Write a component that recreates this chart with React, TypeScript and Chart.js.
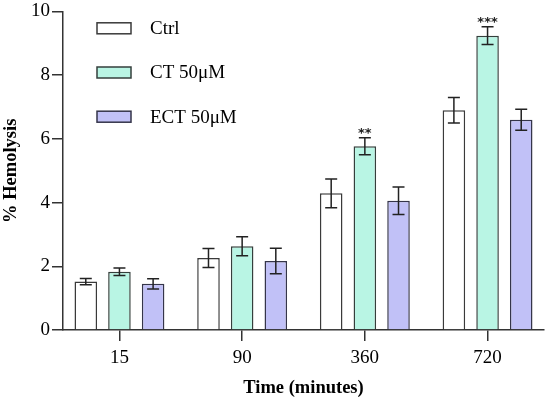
import React, { useEffect, useRef } from "react";
import { Chart, registerables } from "chart.js";

Chart.register(...registerables);

const CATEGORIES = ["15", "90", "360", "720"];
const SERIES_LABELS = ["Ctrl", "CT 50\u03BCM", "ECT 50\u03BCM"];
const CTRL = [1.52, 2.26, 4.29, 6.9];
const CTRL_ERR = [0.1, 0.3, 0.45, 0.4];
const CT = [1.83, 2.63, 5.77, 9.24];
const CT_ERR = [0.12, 0.3, 0.27, 0.28];
const ECT = [1.45, 2.17, 4.06, 6.6];
const ECT_ERR = [0.16, 0.4, 0.43, 0.33];
const CT_SIG = ["", "", "**", "***"];
const Y_MIN = 0;
const Y_MAX = 10;
const Y_STEP = 2;

const FAMILY = "'Liberation Serif', 'Times New Roman', serif";
const EDGE = "#333333";
const TEXT = "#000000";

const errorBarPlugin = {
  id: "errorBars",
  afterDatasetsDraw(chart: any) {
    const ctx = chart.ctx;
    const yScale = chart.scales.y;
    chart.data.datasets.forEach((ds: any, di: number) => {
      const meta = chart.getDatasetMeta(di);
      meta.data.forEach((el: any, i: number) => {
        const v = ds.data[i].y;
        const e = ds.errors[i];
        const yTop = yScale.getPixelForValue(v + e);
        const yBot = yScale.getPixelForValue(v - e);
        const x = el.x;
        ctx.save();
        ctx.strokeStyle = "#222";
        ctx.lineWidth = 1.5;
        ctx.beginPath();
        ctx.moveTo(x, yTop);
        ctx.lineTo(x, yBot);
        ctx.moveTo(x - 6, yTop);
        ctx.lineTo(x + 6, yTop);
        ctx.moveTo(x - 6, yBot);
        ctx.lineTo(x + 6, yBot);
        ctx.stroke();
        const sig = ds.sig ? ds.sig[i] : "";
        if (sig) {
          ctx.font = "bold 13px 'DejaVu Sans', sans-serif";
          ctx.fillStyle = "#222";
          ctx.textAlign = "center";
          ctx.textBaseline = "alphabetic";
          const m = ctx.measureText(sig);
          const center = yTop - 7;
          const base = center + (m.actualBoundingBoxAscent - m.actualBoundingBoxDescent) / 2;
          ctx.fillText(sig, x, base);
        }
        ctx.restore();
      });
    });
  },
};

const legendPlugin = {
  id: "insideLegend",
  afterDraw(chart: any) {
    const ctx = chart.ctx;
    const boxX = 97;
    const boxW = 34;
    const boxH = 11;
    const firstY = 28.3;
    const gap = 44.2;
    chart.data.datasets.forEach((ds: any, i: number) => {
      const cy = firstY + i * gap;
      ctx.save();
      ctx.fillStyle = ds.backgroundColor;
      ctx.fillRect(boxX, cy - boxH / 2, boxW, boxH);
      ctx.strokeStyle = ds.borderColor;
      ctx.lineWidth = 1.5;
      ctx.strokeRect(boxX, cy - boxH / 2, boxW, boxH);
      ctx.font = "19px " + FAMILY;
      ctx.fillStyle = TEXT;
      ctx.textAlign = "left";
      ctx.textBaseline = "middle";
      ctx.fillText(ds.label, 150, cy + 1);
      ctx.restore();
    });
  },
};

export default function App() {
  const ref = useRef<HTMLCanvasElement | null>(null);

  useEffect(() => {
    document.body.style.margin = "0";
    document.body.style.overflow = "hidden";
    const canvas = ref.current;
    if (!canvas) return;
    const toPoints = (arr: number[]) => arr.map((y, i) => ({ x: i, y }));
    const chart = new Chart(canvas, {
      type: "bar",
      data: {
        datasets: [
          {
            label: SERIES_LABELS[0],
            data: toPoints(CTRL),
            errors: CTRL_ERR,
            backgroundColor: "#ffffff",
            borderColor: "#3a3a3a",
            borderWidth: 1.5,
          } as any,
          {
            label: SERIES_LABELS[1],
            data: toPoints(CT),
            errors: CT_ERR,
            sig: CT_SIG,
            backgroundColor: "#b9f5e4",
            borderColor: "#353f3c",
            borderWidth: 1.5,
          } as any,
          {
            label: SERIES_LABELS[2],
            data: toPoints(ECT),
            errors: ECT_ERR,
            backgroundColor: "#c1c1f7",
            borderColor: "#35354a",
            borderWidth: 1.5,
          } as any,
        ],
      },
      options: {
        responsive: false,
        animation: false,
        categoryPercentage: 0.823,
        barPercentage: 0.67,
        layout: { padding: { top: 10, right: 6, left: 0, bottom: 0 } },
        plugins: {
          legend: { display: false },
          tooltip: { enabled: false },
        },
        scales: {
          x: {
            type: "linear",
            min: -0.46,
            max: 3.46,
            offset: false,
            afterBuildTicks: (s: any) => {
              s.ticks = CATEGORIES.map((_, i) => ({ value: i }));
            },
            afterFit: (s: any) => {
              s.height = 69;
            },
            ticks: {
              callback: (v: any) => CATEGORIES[v] ?? "",
              autoSkip: false,
              maxRotation: 0,
              padding: 6,
              color: TEXT,
              font: { family: FAMILY, size: 19 },
            },
            grid: {
              offset: false,
              drawOnChartArea: false,
              drawTicks: true,
              tickLength: 11,
              color: EDGE,
              lineWidth: 1.5,
            },
            border: { display: true, color: EDGE, width: 1.5 },
            title: {
              display: true,
              text: "Time (minutes)",
              color: TEXT,
              font: { family: FAMILY, size: 18.5, weight: "bold" },
              padding: { top: 2, bottom: 0 },
            },
          } as any,
          y: {
            min: Y_MIN,
            max: Y_MAX,
            afterFit: (s: any) => {
              s.width = 63;
            },
            ticks: {
              stepSize: Y_STEP,
              padding: 2,
              color: TEXT,
              font: { family: FAMILY, size: 19, lineHeight: 1 },
            },
            grid: {
              drawOnChartArea: false,
              drawTicks: true,
              tickLength: 11,
              color: EDGE,
              lineWidth: 1.5,
            },
            border: { display: true, color: EDGE, width: 1.5 },
            title: {
              display: true,
              text: "% Hemolysis",
              color: TEXT,
              font: { family: FAMILY, size: 18.5, weight: "bold" },
              padding: { top: 0, bottom: 0 },
            },
          } as any,
        },
      } as any,
      plugins: [errorBarPlugin, legendPlugin],
    });
    return () => chart.destroy();
  }, []);

  return (
    <div style={{ width: 550, height: 399 }}>
      <canvas ref={ref} width={550} height={399} style={{ display: "block" }} />
    </div>
  );
}
